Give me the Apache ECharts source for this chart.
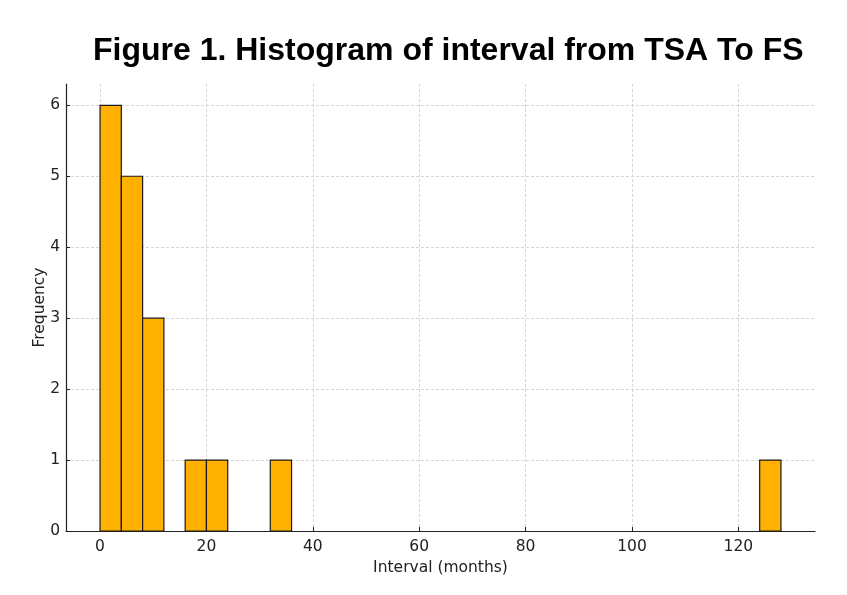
<!DOCTYPE html>
<html lang="en">
<head>
    <meta charset="UTF-8">
    <title>Histogram of interval from TSA To FS</title>
    <script src="https://cdn.jsdelivr.net/npm/echarts@6/dist/echarts.min.js"></script>
    <style>
        body { margin: 0; padding: 0; background: #fff; }
    </style>
</head>
<body>
    <div id="chart" style="width: 847px; height: 595px;"></div>
    <script>
        // histogram bins (months) and their counts, only non-empty bins
        var binLo = [0, 4, 8, 16, 20, 32, 124];
        var binHi = [4, 8, 12, 20, 24, 36, 128];
        var counts = [6, 5, 3, 1, 1, 1, 1];
        var xTicks = [0, 20, 40, 60, 80, 100, 120];
        var yTicks = [0, 1, 2, 3, 4, 5, 6];

        var histData = [];
        binLo.forEach(function (lo, i) {
            histData.push([lo, binHi[i], counts[i]]);
        });

        var chart = echarts.init(document.getElementById("chart"));
        var gridLine = { show: true, lineStyle: { color: "#cccccc", type: [3, 2], width: 0.8 } };
        var labelFont = { fontFamily: "DejaVu Sans", fontSize: 15.5, color: "#222" };

        var option = {
            animation: false,
            title: {
                text: "Figure 1. Histogram of interval from TSA To FS",
                left: 88,
                top: 30,
                textStyle: { fontFamily: "Liberation Sans", fontWeight: "bold", fontSize: 32, color: "#000" }
            },
            grid: { left: 66, right: 32, top: 84, bottom: 64 },
            xAxis: {
                type: "value",
                min: -6.4,
                max: 134.4,
                name: "Interval (months)",
                nameLocation: "middle",
                nameGap: 26,
                nameTextStyle: labelFont,
                axisLine: { show: true, onZero: false, lineStyle: { color: "#222", width: 1.2 } },
                axisTick: { show: true, inside: true, length: 4, customValues: xTicks, lineStyle: { color: "#222" } },
                axisLabel: Object.assign({ customValues: xTicks, margin: 8 }, labelFont),
                splitLine: gridLine
            },
            yAxis: {
                type: "value",
                min: 0,
                max: 6.3,
                name: "Frequency",
                nameLocation: "middle",
                nameGap: 18,
                nameMoveOverlap: false,
                nameTextStyle: labelFont,
                axisLine: { show: true, onZero: false, lineStyle: { color: "#222", width: 1.2 } },
                axisTick: { show: true, inside: true, length: 4, customValues: yTicks, lineStyle: { color: "#222" } },
                axisLabel: Object.assign({ customValues: yTicks, margin: 6 }, labelFont),
                splitLine: gridLine
            },
            series: [{
                type: "custom",
                data: histData,
                encode: { x: [0, 1], y: 2 },
                renderItem: function (params, api) {
                    var p0 = api.coord([api.value(0), api.value(2)]);
                    var p1 = api.coord([api.value(1), 0]);
                    return {
                        type: "rect",
                        shape: { x: p0[0], y: p0[1], width: p1[0] - p0[0], height: p1[1] - p0[1] },
                        style: { fill: "#FFB000", stroke: "#1a1a1a", lineWidth: 1.2 }
                    };
                }
            }]
        };
        chart.setOption(option);
    </script>
</body>
</html>
